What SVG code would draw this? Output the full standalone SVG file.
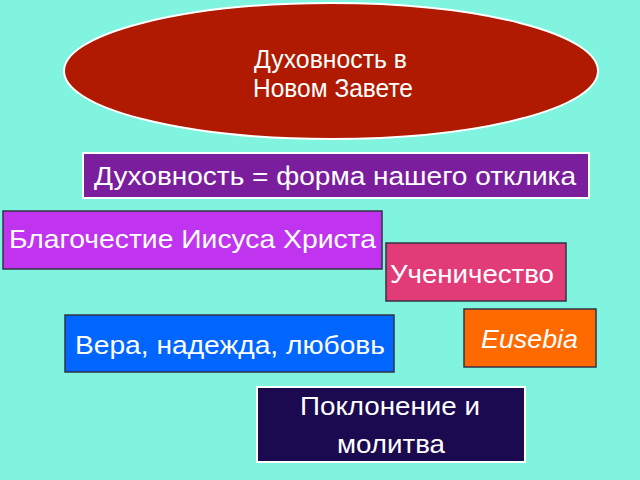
<svg xmlns="http://www.w3.org/2000/svg" width="640" height="480" viewBox="0 0 640 480">
<style>
text{font-family:"Liberation Sans",Arial,sans-serif;fill:#FFFFFF;font-size:25px}
.dk{stroke:#333344;stroke-width:1.5}
.wt{stroke:#FFFFFF;stroke-width:2}
</style>
<rect width="640" height="480" fill="#80F4DE"/>
<g id="title">
<ellipse cx="331" cy="71" rx="267" ry="68" fill="#B01A00" stroke="#FFFFFF" stroke-width="2"/>
<text x="254" y="68" font-size="23" textLength="153" lengthAdjust="spacingAndGlyphs">Духовность в</text>
<text x="253" y="97" font-size="23" textLength="160" lengthAdjust="spacingAndGlyphs">Новом Завете</text>
</g>
<g id="n1">
<rect x="83" y="153" width="506" height="45" fill="#7A1E9E" class="wt"/>
<text x="94" y="185" font-size="24" textLength="482" lengthAdjust="spacingAndGlyphs">Духовность = форма нашего отклика</text>
</g>
<g id="n2">
<rect x="3" y="211" width="379" height="58" fill="#C034F0" class="dk"/>
<text x="9" y="248" textLength="367" lengthAdjust="spacingAndGlyphs">Благочестие Иисуса Христа</text>
</g>
<g id="n3">
<rect x="386" y="243" width="180" height="58" fill="#E23C78" class="dk"/>
<text x="390" y="283" textLength="164" lengthAdjust="spacingAndGlyphs">Ученичество</text>
</g>
<g id="n4">
<rect x="65" y="315" width="329" height="57" fill="#0066FF" class="dk"/>
<text x="75" y="354" textLength="310" lengthAdjust="spacingAndGlyphs">Вера, надежда, любовь</text>
</g>
<g id="n5">
<rect x="464" y="309" width="132" height="58" fill="#FF6A00" class="dk"/>
<text x="481" y="348" font-style="italic" textLength="97" lengthAdjust="spacingAndGlyphs">Eusebia</text>
</g>
<g id="n6">
<rect x="257" y="387" width="268" height="75" fill="#1C0A50" class="wt"/>
<text x="300" y="415" font-size="27" textLength="180" lengthAdjust="spacingAndGlyphs">Поклонение и</text>
<text x="337" y="453" font-size="27" textLength="108" lengthAdjust="spacingAndGlyphs">молитва</text>
</g>
<g id="connectors"></g>
</svg>
